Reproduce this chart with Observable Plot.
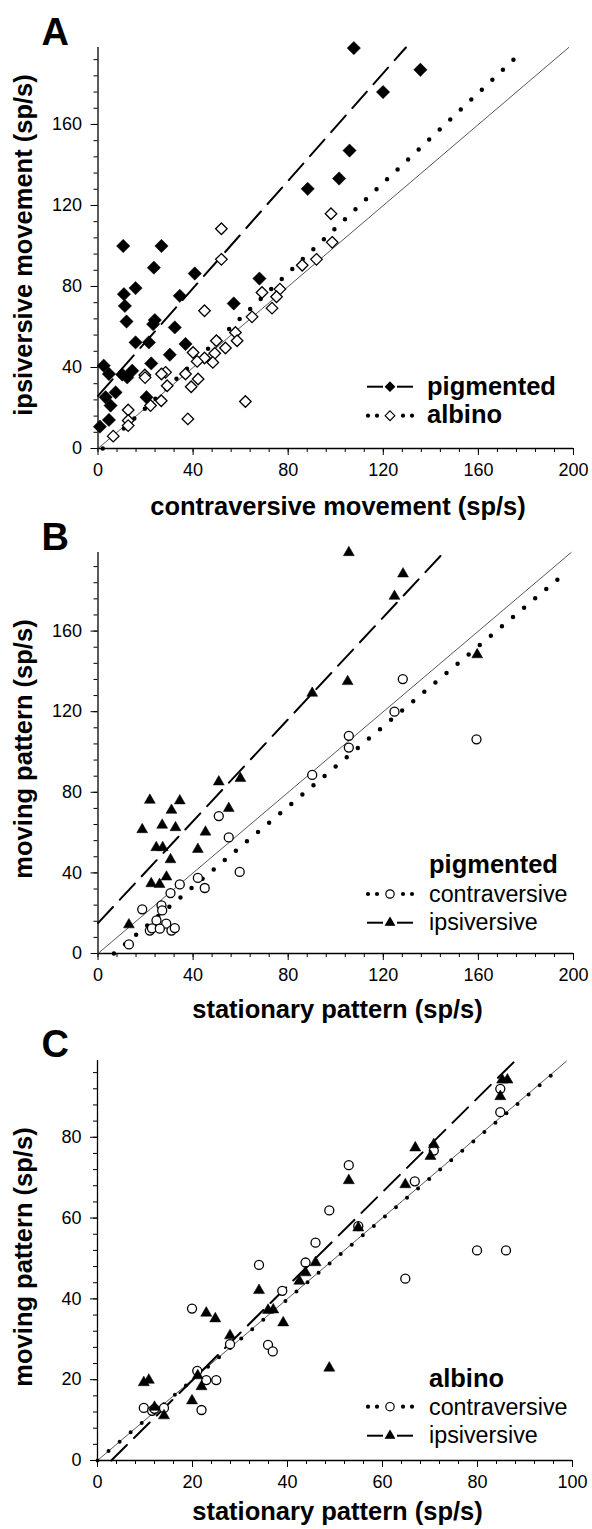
<!DOCTYPE html>
<html><head><meta charset="utf-8">
<script src="https://cdn.jsdelivr.net/npm/d3@7"></script>
<script src="https://cdn.jsdelivr.net/npm/@observablehq/plot@0.6"></script>
<style>
body{margin:0;background:#fff;}
#wrap{position:relative;width:592px;height:1529px;overflow:hidden;background:#fff;}
.panel{position:absolute;left:0;}
.panel svg{overflow:visible;display:block;}
</style></head><body><div id="wrap"></div>
<script>
const FONT = '"Liberation Sans", Arial, Helvetica, sans-serif';

// ---------- Panel A: contraversive vs ipsiversive movement ----------
const aPigmented = [[10.6,100],[26.7,100],[23.5,89.3],[40.7,86.4],[10.9,76.2],[11.3,70.4],[15.8,79.2],[12,62.7],[23.9,63.4],[23.2,61.4],[34.4,75.4],[32.3,59.8],[15.8,52.4],[21.4,52.4],[36.8,51.6],[57.1,71.6],[67.9,83.9],[30.2,46.3],[2.4,40.9],[4.6,36.8],[10.2,36.5],[12.3,35.1],[14.4,38.4],[22.4,42],[3.2,25.3],[5.3,21.2],[7.4,27.7],[4.6,14.1],[0.8,10.8],[20.4,25.3],[107.6,197.7],[135.6,187],[119.9,176],[105.8,147.1],[101.4,133.3],[88.2,128.2]];
const aAlbino = [[51.9,93.4],[51.9,108.5],[44.8,68],[69,77],[76.5,78.7],[75.1,74.9],[73.2,69.3],[64.8,65],[57.8,57.3],[58.5,53.2],[49.8,53.2],[53.6,49.6],[49.1,47],[48.3,42.5],[44.8,44.7],[41.7,43],[40,47.4],[36.8,36.8],[42.1,34.3],[39.2,30.5],[28.4,37.6],[26.7,36.8],[29.1,31],[19.7,36.3],[19.8,35],[26.6,23.6],[22.1,21.2],[12.7,19],[12.7,13.8],[12.7,11.3],[6.4,6.1],[37.8,14.6],[62,23.2],[98,115.9],[98.5,101.8],[91.9,93.4],[85.9,90.5]];
const aFitPigmented = [[0,26],[129.5,198]];
const aFitAlbino = [[2,0],[178,195.6]];
const aIdentity = [[0,0],[198,198]];

// ---------- Panel B: pigmented, stationary vs moving pattern ----------
const bIpsiversive = [[21.8,76.1],[34.4,75.8],[30.9,71.1],[18.6,61.5],[27,63.7],[32.6,62.5],[24.5,52.6],[27.2,52.6],[30.5,46.6],[28.8,38],[22.4,34.7],[25.9,34.3],[13,14.3],[42,51.7],[45.2,60.3],[50.8,85.2],[59.9,86.9],[55,72],[105.5,199],[128.3,188.4],[124.7,177.3],[105,135],[90.1,129.2],[159.5,148.3]];
const bContraversive = [[50.8,68.2],[55,57.6],[59.6,40.5],[42,37.5],[44.9,32.5],[34.4,34.3],[30.5,30],[18.6,21.9],[26.7,23.9],[27,21.4],[24.6,16.4],[28.7,14.8],[21.8,11.4],[22.7,12.5],[26,12.3],[30.9,11.4],[32.3,12.6],[13,4.5],[128.2,136.2],[124.7,120],[105.5,108],[105.5,102.2],[159.2,106.3],[90.1,88.6]];
const bFitContra = [[6.7,0],[196.9,189.2]];
const bFitIpsi = [[0,15.1],[145.4,199]];
const bIdentity = [[0,0],[199,199]];

// ---------- Panel C: albino, stationary vs moving pattern ----------
const cIpsiversive = [[9.75,19.3],[10.8,19.9],[12,13.2],[14,11.1],[19.9,14.8],[21.1,21],[21.9,18.3],[22.9,36.5],[24.8,35.1],[27.9,30.9],[34,42.1],[35.9,37.2],[37,37.3],[39.1,34.1],[42.5,44.4],[48.8,22.9],[43.8,46.5],[45.9,49],[54.9,57.6],[52.9,69.3],[64.8,68.3],[66.9,77.4],[70.1,75.3],[70.8,78.2],[84.8,90.1],[85.2,94.2],[86.3,94.2]];
const cContraversive = [[9.75,13],[11.5,12.3],[12,12.8],[14,13],[19.9,37.6],[21,22.2],[22.9,19.9],[25,19.9],[21.9,12.5],[27.9,28.8],[34,48.4],[35.9,28.6],[36.9,27],[38.9,42],[64.8,45],[43.8,49],[45.9,53.9],[48.8,61.9],[52.9,73.1],[54.9,58],[66.8,69.1],[70.8,76.7],[84.8,86.2],[84.8,92],[79.9,52],[86,52]];
const cFitContra = [[0,0],[97.3,97.1]];
const cFitIpsi = [[2.9,0],[87.9,98.9]];
const cIdentity = [[0,0],[98.7,98.8]];

// ---------- ticks ----------
const abXMajor = [0,40,80,120,160,200];
const abXMinor = d3.range(0,201,8);
const abYMajor = [0,40,80,120,160];
const abYMinor = d3.range(0,197,8);
const cXMajor = [0,20,40,60,80,100];
const cXMinor = d3.range(0,101,4);
const cYMajor = [0,20,40,60,80];
const cYMinor = d3.range(0,97,4);

// ---------- text ----------
const titlesA = {letter:"A", x:"contraversive movement (sp/s)", y:"ipsiversive movement (sp/s)"};
const titlesB = {letter:"B", x:"stationary pattern (sp/s)", y:"moving pattern (sp/s)"};
const titlesC = {letter:"C", x:"stationary pattern (sp/s)", y:"moving pattern (sp/s)"};

const px = d => d[0], py = d => d[1];

function dashedLine(pts, w) {
  return Plot.line(pts, {x: px, y: py, stroke: "black", strokeWidth: w || 2, strokeDasharray: "22 10"});
}
function dottedLine(pts, w) {
  return Plot.line(pts, {x: px, y: py, stroke: "black", strokeWidth: w || 4.5, strokeDasharray: "0 14.5", strokeLinecap: "round"});
}
function identityLine(pts) {
  return Plot.line(pts, {x: px, y: py, stroke: "#444", strokeWidth: 0.9});
}

function drawPanel(cfg) {
  const svg = Plot.plot({
    width: 592, height: cfg.height,
    marginTop: cfg.mt, marginBottom: cfg.mb, marginLeft: cfg.ml, marginRight: cfg.mr,
    x: {domain: cfg.xDomain},
    y: {domain: cfg.yDomain},
    style: {fontFamily: FONT, fontSize: "18px", color: "black", background: "transparent", overflow: "visible"},
    marks: [
      Plot.axisX(cfg.xMinor, {tickSize: 4, tickFormat: () => "", label: null, strokeWidth: 1}),
      Plot.axisX(cfg.xMajor, {tickSize: 7, tickPadding: 8, label: null, fontSize: 18, strokeWidth: 1}),
      Plot.axisY(cfg.yMinor, {tickSize: 4, tickFormat: () => "", label: null, strokeWidth: 1}),
      Plot.axisY(cfg.yMajor, {tickSize: 7, tickPadding: 9, label: null, fontSize: 18, strokeWidth: 1}),
      Plot.ruleY([0], {strokeWidth: 1.3}),
      Plot.ruleX([0], {strokeWidth: 1.3}),
      ...cfg.lines,
      ...cfg.dots
    ]
  });
  const div = document.createElement("div");
  div.className = "panel";
  div.style.top = cfg.top + "px";
  div.appendChild(svg);
  document.getElementById("wrap").appendChild(div);

  const g = d3.select(svg).append("g").attr("font-family", FONT).attr("fill", "black").attr("text-anchor", "start");
  const T = cfg.top;
  // panel letter
  g.append("text").attr("x", 41.5).attr("y", cfg.letterBase - T).attr("text-anchor", "start")
    .attr("font-size", 38).attr("font-weight", "bold").text(cfg.titles.letter);
  // x title
  g.append("text").attr("x", cfg.xTitleX).attr("y", cfg.xTitleBase - T).attr("text-anchor", "middle")
    .attr("font-size", 25.5).attr("font-weight", "bold").text(cfg.titles.x);
  // y title
  g.append("text").attr("transform", `translate(32,${cfg.yTitleCenter - T}) rotate(-90)`).attr("text-anchor", "middle")
    .attr("font-size", 25.5).attr("font-weight", "bold").text(cfg.titles.y);
  // legend
  const L = cfg.legend;
  if (L.header) {
    g.append("text").attr("x", L.textX).attr("y", L.header.base - T).attr("text-anchor", "start")
      .attr("font-size", 25.5).attr("font-weight", "bold").text(L.header.text);
  }
  L.items.forEach(it => {
    const y = it.lineY - T;
    if (it.line === "dash") {
      g.append("line").attr("x1", 367).attr("x2", 383).attr("y1", y).attr("y2", y).attr("stroke", "black").attr("stroke-width", 2);
      g.append("line").attr("x1", 397).attr("x2", 413).attr("y1", y).attr("y2", y).attr("stroke", "black").attr("stroke-width", 2);
    } else {
      [368, 377, 403, 412].forEach(x => g.append("circle").attr("cx", x).attr("cy", y).attr("r", 2.1).attr("fill", "black"));
    }
    const sym = d3.symbol().type(it.symbol).size(it.size);
    g.append("path").attr("d", sym()).attr("transform", `translate(390,${y})`)
      .attr("fill", it.filled ? "black" : "white").attr("stroke", "black").attr("stroke-width", 1.2);
    g.append("text").attr("x", L.textX).attr("y", it.base - T).attr("text-anchor", "start")
      .attr("font-size", it.bold ? 25.5 : 23.3).attr("font-weight", it.bold ? "bold" : "normal").text(it.text);
  });
}

drawPanel({
  top: 0, height: 505, mt: 47, mb: 57, ml: 97.5, mr: 19,
  xDomain: [0, 200], yDomain: [0, 198],
  xMajor: abXMajor, xMinor: abXMinor, yMajor: abYMajor, yMinor: abYMinor,
  lines: [identityLine(aIdentity), dashedLine(aFitPigmented), dottedLine(aFitAlbino)],
  dots: [
    Plot.dot(aAlbino, {x: px, y: py, symbol: "diamond2", r: 5.2, fill: "white", stroke: "black", strokeWidth: 1.3}),
    Plot.dot(aPigmented, {x: px, y: py, symbol: "diamond2", r: 6, fill: "black", stroke: "black", strokeWidth: 0.5})
  ],
  titles: titlesA, letterBase: 45, xTitleX: 338, xTitleBase: 515, yTitleCenter: 245,
  legend: {textX: 427, items: [
    {lineY: 386.7, base: 395, text: "pigmented", bold: true, line: "dash", symbol: d3.symbolDiamond2, size: 52, filled: true},
    {lineY: 415.7, base: 423, text: "albino", bold: true, line: "dot", symbol: d3.symbolDiamond2, size: 60, filled: false}
  ]}
});

drawPanel({
  top: 505, height: 505, mt: 47, mb: 57, ml: 97.5, mr: 19,
  xDomain: [0, 200], yDomain: [0, 199],
  xMajor: abXMajor, xMinor: abXMinor, yMajor: abYMajor, yMinor: abYMinor,
  lines: [identityLine(bIdentity), dottedLine(bFitContra), dashedLine(bFitIpsi)],
  dots: [
    Plot.dot(bContraversive, {x: px, y: py, symbol: "circle", r: 4.5, fill: "white", stroke: "black", strokeWidth: 1.3}),
    Plot.dot(bIpsiversive, {x: px, y: py, symbol: "triangle2", r: 5.2, fill: "black", stroke: "black", strokeWidth: 0.5})
  ],
  titles: titlesB, letterBase: 550, xTitleX: 337.5, xTitleBase: 1018, yTitleCenter: 749,
  legend: {textX: 429, header: {text: "pigmented", base: 873}, items: [
    {lineY: 894, base: 901.7, text: "contraversive", bold: false, line: "dot", symbol: d3.symbolCircle, size: 55, filled: false},
    {lineY: 922.7, base: 930, text: "ipsiversive", bold: false, line: "dash", symbol: d3.symbolTriangle2, size: 55, filled: true}
  ]}
});

drawPanel({
  top: 1010, height: 519, mt: 50, mb: 69, ml: 97, mr: 20,
  xDomain: [0, 100], yDomain: [0, 99],
  xMajor: cXMajor, xMinor: cXMinor, yMajor: cYMajor, yMinor: cYMinor,
  lines: [identityLine(cIdentity), dottedLine(cFitContra, 4), dashedLine(cFitIpsi)],
  dots: [
    Plot.dot(cContraversive, {x: px, y: py, symbol: "circle", r: 4.5, fill: "white", stroke: "black", strokeWidth: 1.3}),
    Plot.dot(cIpsiversive, {x: px, y: py, symbol: "triangle2", r: 5.3, fill: "black", stroke: "black", strokeWidth: 0.5})
  ],
  titles: titlesC, letterBase: 1057, xTitleX: 337.5, xTitleBase: 1520, yTitleCenter: 1257,
  legend: {textX: 429, header: {text: "albino", base: 1387}, items: [
    {lineY: 1406.7, base: 1415, text: "contraversive", bold: false, line: "dot", symbol: d3.symbolCircle, size: 55, filled: false},
    {lineY: 1435.7, base: 1443, text: "ipsiversive", bold: false, line: "dash", symbol: d3.symbolTriangle2, size: 55, filled: true}
  ]}
});
</script></body></html>
